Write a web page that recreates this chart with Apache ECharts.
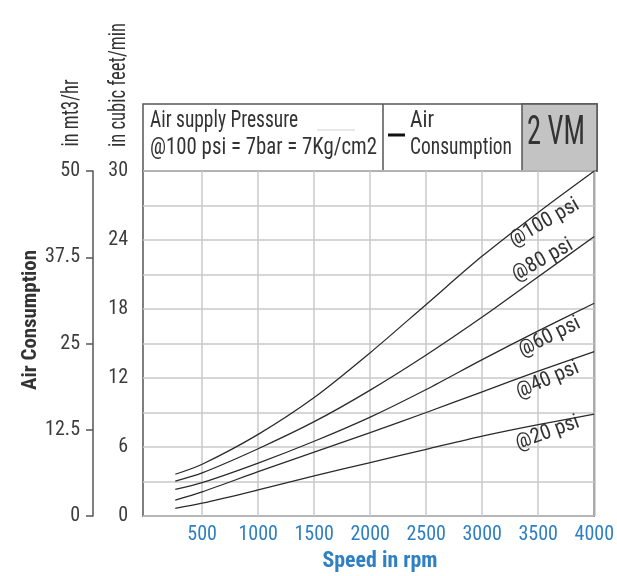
<!DOCTYPE html>
<html>
<head>
<meta charset="utf-8">
<script src="https://cdn.jsdelivr.net/npm/echarts@6/dist/echarts.min.js"></script>
<style>
html,body{margin:0;padding:0;background:#fff;}
#chart{width:617px;height:576px;}
</style>
</head>
<body>
<div id="chart"></div>
<script>
var FONT = '"Roboto Condensed", "Liberation Sans Narrow", "DejaVu Sans Condensed", "DejaVu Sans", sans-serif';

var speedRpm = [260, 500, 1000, 1500, 2000, 2500, 3000, 3500, 4000];
var psi100 = [3.63, 4.5, 7.1, 10.3, 14.2, 18.4, 22.6, 26.4, 30];
var psi80  = [3.04, 3.75, 5.85, 8.2, 10.95, 14.0, 17.3, 20.8, 24.3];
var psi60  = [2.32, 2.9, 4.6, 6.5, 8.6, 11.0, 13.6, 16.1, 18.5];
var psi40  = [1.39, 2.1, 3.85, 5.55, 7.25, 9.0, 10.8, 12.6, 14.3];
var psi20  = [0.67, 1.11, 2.27, 3.49, 4.64, 5.8, 6.95, 7.95, 8.85];

var seriesNames = ['@100 psi', '@80 psi', '@60 psi', '@40 psi', '@20 psi'];
var seriesValues = [psi100, psi80, psi60, psi40, psi20];
// label anchor (rpm, cfm) and angle for each curve label
var labelRpm = [3556, 3538, 3600, 3582, 3582];
var labelCfm = [25.5, 22.26, 15.57, 11.83, 7.22];
var labelAngle = [30, 29, 26, 23, 20];

var cfmTicks = [0, 6, 12, 18, 24, 30];
var m3Ticks = [0, 12.5, 25, 37.5, 50];
var rpmTicks = [500, 1000, 1500, 2000, 2500, 3000, 3500, 4000];

var headerLine1 = 'Air supply Pressure';
var headerLine2 = '@100 psi = 7bar = 7Kg/cm2';
var legendLine1 = 'Air';
var legendLine2 = 'Consumption';
var modelName = '2 VM';
var xTitle = 'Speed in rpm';
var yTitle = 'Air Consumption';
var yUnitM3 = 'in mt3/hr';
var yUnitCfm = 'in cubic feet/min';

var mctx = document.createElement('canvas').getContext('2d');
function textW(text, size, weight) {
  mctx.font = (weight || 'normal') + ' ' + size + 'px ' + FONT;
  return mctx.measureText(text).width;
}
function sx(text, size, weight, target) { return target / textW(text, size, weight); }

var tickSize = Math.min(21, Math.round(20 * 29.5 / textW('500', 20) * 2) / 2);
var labelSize = Math.min(21, Math.round(20 * 80 / textW('@100 psi', 20) * 2) / 2);

var chart = echarts.init(document.getElementById('chart'), null, {renderer: 'canvas'});

function pairs(vals) {
  return speedRpm.map(function (r, i) { return [r, vals[i]]; });
}

var series = seriesNames.map(function (name, i) {
  return {
    name: name,
    type: 'line',
    yAxisIndex: 0,
    smooth: 0.3,
    symbol: 'none',
    lineStyle: {color: '#2b2b2b', width: 1.3},
    data: pairs(seriesValues[i]),
    markPoint: {
      symbol: 'circle',
      symbolSize: 1,
      itemStyle: {color: 'rgba(0,0,0,0)'},
      silent: true,
      data: [{
        coord: [labelRpm[i], labelCfm[i]],
        label: {
          show: true,
          position: 'inside',
          rotate: labelAngle[i],
          formatter: name,
          color: '#333',
          fontSize: labelSize,
          fontFamily: FONT
        }
      }]
    }
  };
});

function txt(opt) {
  var size = opt.size, weight = opt.weight || 'normal';
  return {
    type: 'text', x: opt.x, y: opt.y,
    rotation: opt.rot || 0,
    scaleX: opt.w ? sx(opt.text, size, weight, opt.w) : 1,
    style: {
      text: opt.text, fontFamily: FONT, fontSize: size, fontWeight: weight,
      fill: opt.color || '#333', align: opt.align || 'left', verticalAlign: 'middle'
    }
  };
}

chart.setOption({
  animation: false,
  backgroundColor: '#fff',
  grid: {
    left: 143, right: 20, top: 171, bottom: 60,
    show: true, borderColor: '#555', borderWidth: 1.5, backgroundColor: 'transparent'
  },
  xAxis: {
    type: 'value',
    min: -28, max: 4000,
    axisLine: {show: false},
    axisTick: {show: false, customValues: rpmTicks},
    splitLine: {show: true, lineStyle: {color: '#c8c8c8', width: 1.5}},
    axisLabel: {
      customValues: rpmTicks,
      formatter: function (v) { return String(v); },
      color: '#2f80c2', fontSize: tickSize, fontFamily: FONT, margin: 9
    }
  },
  yAxis: [{
    type: 'value',
    min: 0, max: 30, interval: 3,
    position: 'left',
    axisLine: {show: false},
    axisTick: {show: false},
    splitLine: {show: true, lineStyle: {color: '#c8c8c8', width: 1.5}},
    axisLabel: {
      color: '#3c3c3c', fontSize: tickSize, fontFamily: FONT, margin: 15,
      formatter: function (v) { return cfmTicks.indexOf(v) >= 0 ? String(v) : ''; }
    }
  }, {
    type: 'value',
    min: 0, max: 50, interval: 12.5,
    position: 'left',
    offset: 50,
    axisLine: {show: true, lineStyle: {color: '#555', width: 1.5}},
    axisTick: {show: true, length: 7, lineStyle: {color: '#555', width: 1.5}},
    splitLine: {show: false},
    axisLabel: {
      color: '#3c3c3c', fontSize: tickSize, fontFamily: FONT, margin: 13,
      formatter: function (v) { return m3Ticks.indexOf(v) >= 0 ? String(v) : ''; }
    }
  }],
  series: series,
  graphic: [
    {type: 'rect', shape: {x: 143, y: 104, width: 454, height: 67}, style: {fill: '#fff', stroke: '#555', lineWidth: 1.5}},
    {type: 'rect', shape: {x: 522, y: 104, width: 75, height: 67}, style: {fill: '#c3c3c3', stroke: '#555', lineWidth: 1.5}},
    {type: 'line', shape: {x1: 383, y1: 104, x2: 383, y2: 171}, style: {stroke: '#555', lineWidth: 1.5}},
    txt({text: headerLine1, x: 150, y: 121, size: 24, w: 148}),
    txt({text: headerLine2, x: 150, y: 148, size: 24, w: 227}),
    {type: 'line', shape: {x1: 317, y1: 130, x2: 355, y2: 130}, style: {stroke: '#d0d0d0', lineWidth: 1}},
    {type: 'line', shape: {x1: 388, y1: 135, x2: 405, y2: 135}, style: {stroke: '#111', lineWidth: 3}},
    txt({text: legendLine1, x: 410, y: 121, size: 24, w: 24}),
    txt({text: legendLine2, x: 410, y: 148, size: 24, w: 102}),
    txt({text: modelName, x: 556, y: 134, size: 40, w: 58, align: 'center'}),
    txt({text: xTitle, x: 380, y: 561, size: 22, weight: 'bold', w: 115, align: 'center', color: '#2f80c2'}),
    txt({text: yTitle, x: 31, y: 320, size: 21, weight: 'bold', w: 140, align: 'center', rot: Math.PI / 2}),
    txt({text: yUnitM3, x: 72, y: 113, size: 23, w: 67, align: 'center', rot: Math.PI / 2}),
    txt({text: yUnitCfm, x: 119, y: 85, size: 23, w: 124, align: 'center', rot: Math.PI / 2})
  ]
});
</script>
</body>
</html>
